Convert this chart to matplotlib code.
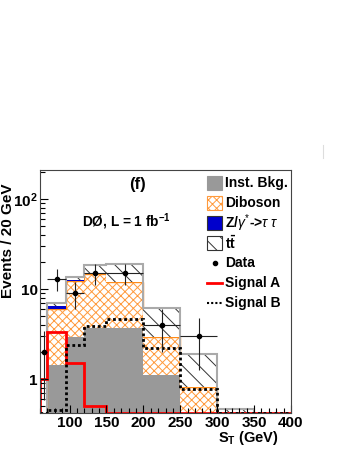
import numpy as np
import matplotlib
matplotlib.use('Agg')
import matplotlib.pyplot as plt
from matplotlib.patches import Rectangle
from matplotlib.lines import Line2D

plt.rcParams['font.family'] = ['Liberation Sans', 'DejaVu Sans']
plt.rcParams['mathtext.fontset'] = 'custom'
plt.rcParams['mathtext.rm'] = 'Liberation Sans'
plt.rcParams['mathtext.bf'] = 'Liberation Sans:bold'
plt.rcParams['mathtext.it'] = 'Liberation Sans:italic'
plt.rcParams['hatch.linewidth'] = 0.7

# bins in S_T (GeV)
edges = np.array([60, 70, 95, 120, 150, 200, 250, 300, 350, 400])

# stacked backgrounds (events / bin)
inst_bkg = np.array([0, 1.43, 2.93, 3.66, 3.70, 1.10, 0, 0, 0])
diboson = np.array([0, 4.60, 9.40, 11.2, 8.20, 1.80, 0.82, 0.02, 0])
ztautau = np.array([0, 0.45, 0.15, 0.10, 0.05, 0.02, 0, 0, 0])
ttbar = np.array([0, 0.60, 1.30, 3.50, 6.80, 3.30, 1.06, 0.45, 0])

# signals
sig_a = np.array([1.0, 3.35, 1.52, 0.50, 0, 0, 0, 0, 0])
sig_b = np.array([0, 0.45, 2.40, 3.85, 4.65, 2.20, 0.77, 0, 0])

# data
data_x = np.array([65, 82.5, 107.5, 135, 175, 225, 275])
data_xerr = np.array([5, 12.5, 12.5, 15, 25, 25, 25])
data_y = np.array([2, 13, 9, 15, 15, 4, 3])

leg_labels = ['Inst. Bkg.', 'Diboson', r'Z/$\gamma^{*}$->$\tau$ $\tau$',
              r'$\mathbf{t\bar{t}}$', 'Data', 'Signal A', 'Signal B']

ymin, ymax = 0.42, 210
W, H = 349, 451

fig = plt.figure(figsize=(3.49, 4.51), dpi=100)
ax = fig.add_axes([40/W, 38/H, 251/W, 243/H])

b0 = inst_bkg
b1 = b0 + diboson
b2 = b1 + ztautau
b3 = b2 + ttbar
lo = lambda v: np.clip(v, ymin*0.5, None)

ax.stairs(lo(b0), edges, baseline=ymin*0.5, fill=True, color='#999999', lw=0)
ax.stairs(lo(b1), edges, baseline=lo(b0), fill=True, facecolor='white',
          edgecolor='#ff9a3c', hatch='xxxx', lw=0)
ax.stairs(lo(b1), edges, color='#ff8c1a', lw=1)
ax.stairs(lo(b2), edges, baseline=lo(b1), fill=True, color='#0000cc', lw=0)
ax.stairs(lo(b3), edges, baseline=lo(b2), fill=True, facecolor='white',
          edgecolor='#333333', hatch='\\\\', lw=0)
ax.stairs(lo(b3), edges, color='#aaaaaa', lw=1.5)

ax.stairs(np.clip(sig_a, ymin, None), edges, color='red', lw=2)
ax.stairs(np.clip(sig_b, ymin, None), edges, color='black', lw=2, ls=(0, (1, 1)))

ax.errorbar(data_x, data_y, xerr=data_xerr, yerr=np.sqrt(data_y), fmt='o',
            color='black', ecolor='#222222', ms=3, elinewidth=0.8, capsize=0)

ax.set_yscale('log')
ax.set_xlim(60, 400)
ax.set_ylim(ymin, ymax)
ax.set_xticks([100, 150, 200, 250, 300, 350, 400])
ax.set_xticks(np.arange(60, 401, 10), minor=True)
ax.set_yticks([1, 10, 100])
ax.set_yticklabels(['1', '10', r'$\mathbf{10^{2}}$'])
ax.tick_params(which='both', direction='in', labelsize=11)
ax.tick_params(which='major', length=6, width=0.8)
ax.tick_params(which='minor', length=3.5, width=0.8)
ax.tick_params(axis='x', pad=2)
ax.tick_params(axis='y', pad=1.5)
for lab in ax.get_xticklabels() + ax.get_yticklabels():
    lab.set_fontweight('bold')
for s in ax.spines.values():
    s.set_linewidth(0.8)
    s.set_color('#444444')

fig.text(8/W, 1 - 183/H, 'Events / 20 GeV', rotation=90, ha='center',
         va='top', fontsize=11, fontweight='bold')
fig.text(279/W, 1 - 438/H, r'$\mathbf{S_T}$ (GeV)', ha='right',
         va='center', fontsize=10.5, fontweight='bold')
fig.text(137/W, 1 - 185/H, '(f)', ha='center', va='center',
         fontsize=12, fontweight='bold')
fig.text(82/W, 1 - 222/H, r'DØ, L = 1 fb$\mathbf{^{-1}}$', ha='left',
         va='center', fontsize=9.8, fontweight='bold')

# legend drawn by hand, one row every 20 px
tf = fig.transFigure
for i, lab in enumerate(leg_labels):
    yc = 183 + 20*i
    y0 = 1 - (yc + 7)/H
    x0, sw, sh = 207/W, 15/W, 14/H
    if i == 0:
        fig.add_artist(Rectangle((x0, y0), sw, sh, transform=tf,
                                 facecolor='#999999', edgecolor='#999999', lw=0.8))
    elif i == 1:
        fig.add_artist(Rectangle((x0, y0), sw, sh, transform=tf, facecolor='white',
                                 edgecolor='#ff9a3c', hatch='xxxx', lw=0.8))
    elif i == 2:
        fig.add_artist(Rectangle((x0, y0), sw, sh, transform=tf,
                                 facecolor='#0000cc', edgecolor='#333333', lw=0.8))
    elif i == 3:
        fig.add_artist(Rectangle((x0, y0), sw, sh, transform=tf, facecolor='white',
                                 edgecolor='#333333', hatch='\\\\', lw=0.8))
    elif i == 4:
        fig.add_artist(Line2D([(x0 + sw/2)], [1 - yc/H], marker='o', ms=3,
                              color='black', ls='none', transform=tf))
    elif i == 5:
        fig.add_artist(Line2D([x0, x0 + sw], [1 - yc/H]*2, color='red', lw=2,
                              transform=tf))
    else:
        fig.add_artist(Line2D([x0, x0 + sw], [1 - yc/H]*2, color='black', lw=1.5,
                              ls=(0, (1, 1)), transform=tf))
    fig.text(225/W, 1 - yc/H, lab, ha='left', va='center', fontsize=10,
             fontweight='bold')

fig.add_artist(Line2D([323/W, 323/W], [1 - 145/H, 1 - 158/H],
                      color='#dddddd', lw=0.8))

fig.savefig('out.png', dpi=100)
